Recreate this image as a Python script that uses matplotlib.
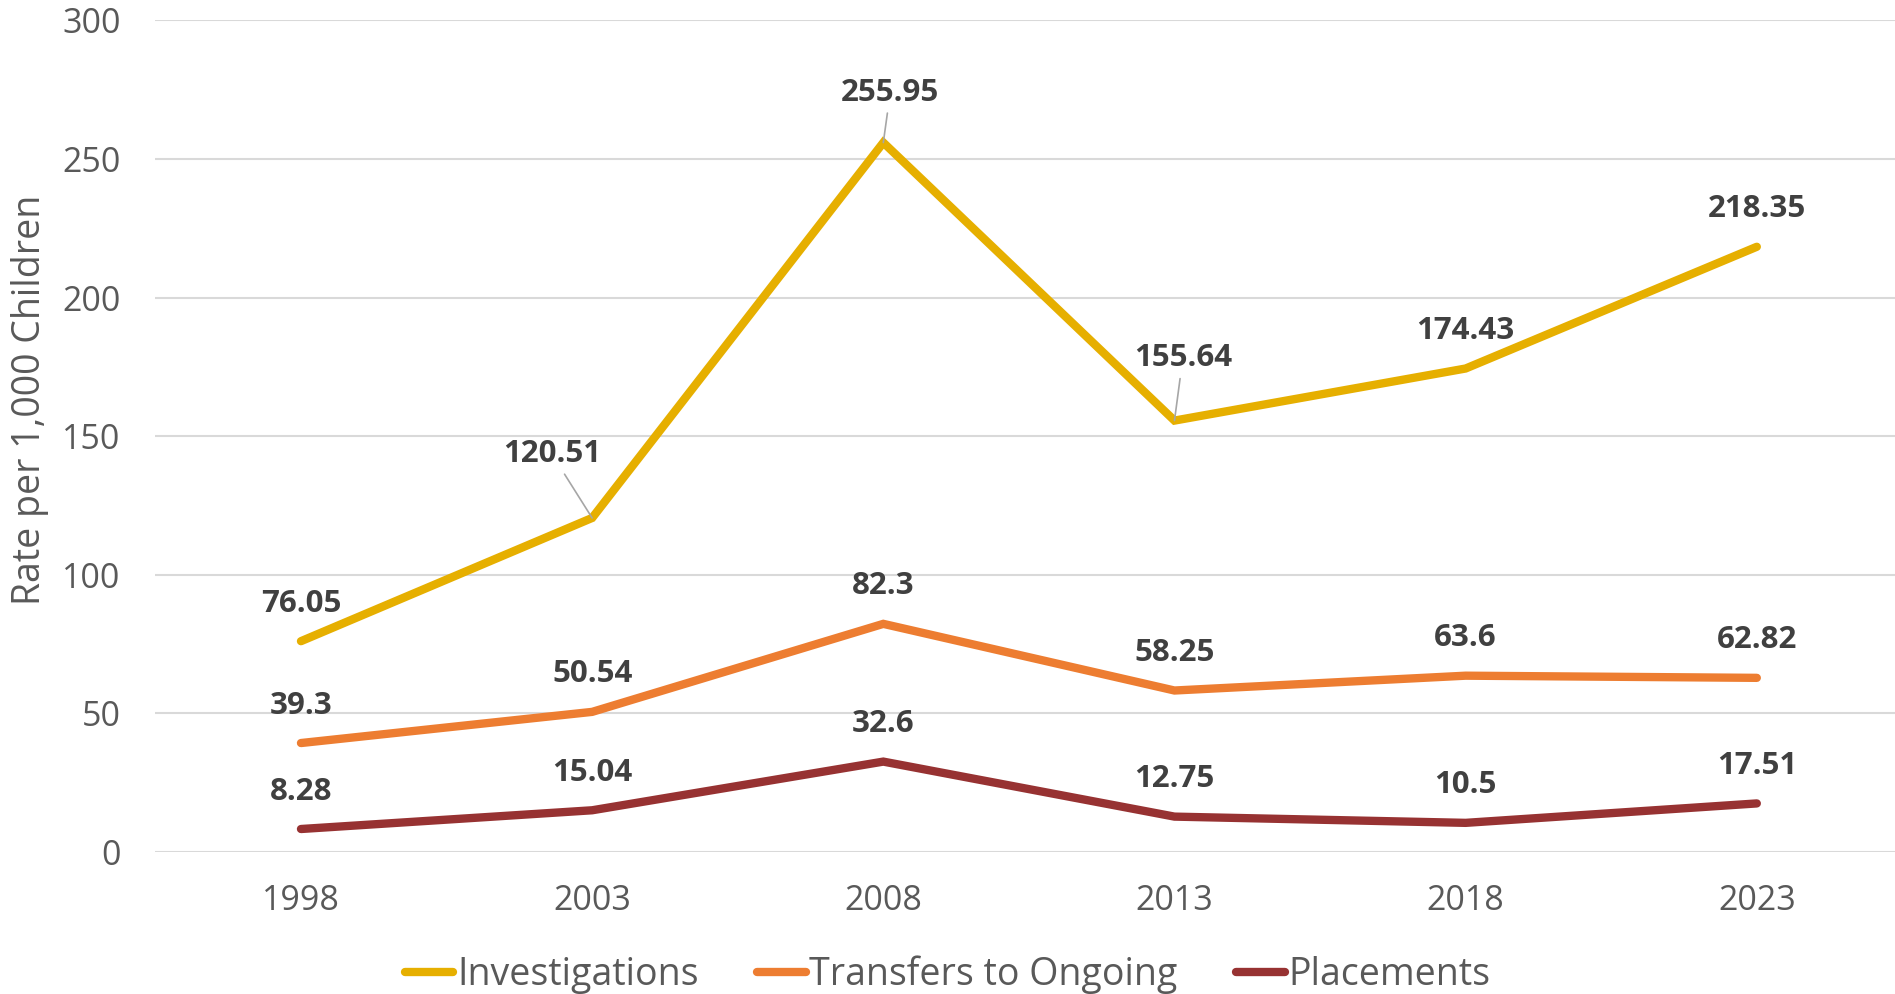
import numpy as np
import matplotlib.pyplot as plt

plt.rcParams['font.family'] = ['Open Sans', 'DejaVu Sans']

years = ['1998', '2003', '2008', '2013', '2018', '2023']
investigations = [76.05, 120.51, 255.95, 155.64, 174.43, 218.35]
transfers = [39.3, 50.54, 82.3, 58.25, 63.6, 62.82]
placements = [8.28, 15.04, 32.6, 12.75, 10.5, 17.51]

series = [
    ('Investigations', investigations, '#E6AF00'),
    ('Transfers to Ongoing', transfers, '#ED7D31'),
    ('Placements', placements, '#973232'),
]

# label offsets in points (dx, dy); default is straight above
special = {(0, 1): (-29, 46), (0, 2): (5, 36), (0, 3): (6, 45)}

fig = plt.figure(figsize=(18.95, 9.94), dpi=100)
ax = fig.add_axes([0.082, 0.1429, 0.9219, 0.8365])

x = np.arange(len(years))
for si, (name, vals, col) in enumerate(series):
    ax.plot(x, vals, color=col, lw=6, label=name, solid_capstyle='round',
            solid_joinstyle='miter', zorder=3)
    for i, v in enumerate(vals):
        lab = f'{v:g}'
        if (si, i) in special:
            dx, dy = special[(si, i)]
            ax.annotate(lab, (x[i], v), xytext=(dx, dy), textcoords='offset points',
                        ha='center', va='center', fontsize=22.5, fontweight='bold',
                        color='#404040',
                        arrowprops=dict(arrowstyle='-', color='#A6A6A6', lw=1.2,
                                        shrinkA=2, shrinkB=0))
        else:
            ax.annotate(lab, (x[i], v), xytext=(0, 27), textcoords='offset points',
                        ha='center', va='center', fontsize=22.5, fontweight='bold',
                        color='#404040')

ax.set_xlim(-0.5, 5.5)
ax.set_ylim(0, 300)
ax.set_yticks(range(0, 301, 50))
ax.set_xticks(x)
ax.set_xticklabels(years)
ax.grid(axis='y', color='#D9D9D9', lw=1.5)
ax.set_axisbelow(True)
for s in ax.spines.values():
    s.set_visible(False)
ax.tick_params(length=0, labelsize=24.5, colors='#595959')
ax.tick_params(axis='y', pad=25)
ax.tick_params(axis='x', pad=23)
ax.set_ylabel('Rate per 1,000 Children', fontsize=27, color='#595959')
ax.yaxis.set_label_coords(-0.061, 0.544)

leg = fig.legend(loc='center', bbox_to_anchor=(0.5, 0.019), ncol=3, frameon=False,
                 fontsize=27, handlelength=1.3, handletextpad=0.1, columnspacing=1.55)
for t in leg.get_texts():
    t.set_color('#595959')

plt.savefig('out.png', dpi=100)
